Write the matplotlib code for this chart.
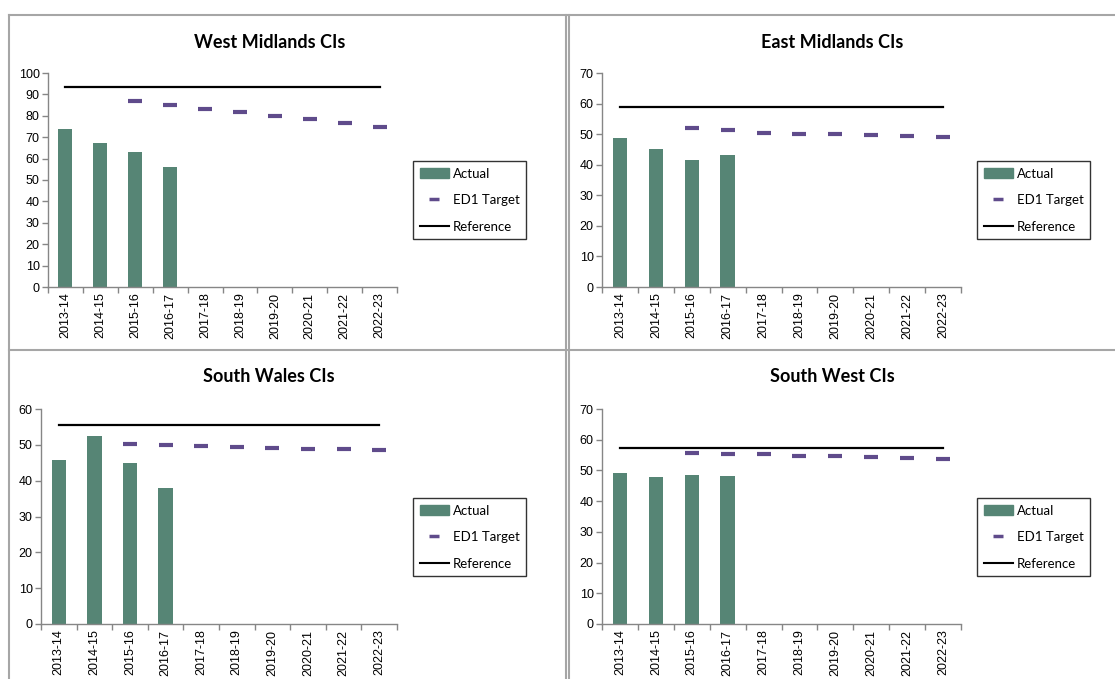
import matplotlib
matplotlib.use('Agg')
import matplotlib.pyplot as plt
from matplotlib.lines import Line2D
from matplotlib.patches import Patch

plt.rcParams['font.family'] = 'Liberation Sans'

# data
years = ['2013-14', '2014-15', '2015-16', '2016-17', '2017-18',
         '2018-19', '2019-20', '2020-21', '2021-22', '2022-23']

titles = ['West Midlands CIs', 'East Midlands CIs', 'South Wales CIs', 'South West CIs']

wm_actual = [73.6, 67.5, 63.0, 56.1]
wm_target = [None, None, 86.8, 85.1, 83.4, 81.7, 80.0, 78.3, 76.7, 75.0]
wm_ref = 93.6

em_actual = [48.7, 45.0, 41.5, 43.2]
em_target = [None, None, 52.0, 51.2, 50.4, 50.1, 50.0, 49.7, 49.5, 49.1]
em_ref = 58.8

sw_actual = [45.7, 52.6, 44.8, 38.0]
sw_target = [None, None, 50.1, 49.9, 49.7, 49.4, 49.1, 48.9, 48.7, 48.5]
sw_ref = 55.4

swe_actual = [49.3, 47.9, 48.4, 48.2]
swe_target = [None, None, 55.8, 55.5, 55.2, 54.8, 54.7, 54.4, 54.1, 53.7]
swe_ref = 57.4

ymax = [100, 70, 60, 70]

W, H = 1115, 679
bar_col = '#568575'
tgt_col = '#5f4b8b'
grey = '#868686'

fig = plt.figure(figsize=(W / 100, H / 100), dpi=100)


def rect(l, t, r, b):
    return [l / W, 1 - b / H, (r - l) / W, (b - t) / H]


# axes boxes and title / legend positions in pixels
boxes = [(48, 73, 397, 287), (602, 73, 961, 287),
         (41, 409, 397, 624), (602, 409, 961, 624)]
title_pos = [(270, 42), (832, 42), (269, 377), (832, 377)]
legend_pos = [(413, 161), (977, 161), (413, 498), (977, 498)]

series = [(wm_actual, wm_target, wm_ref), (em_actual, em_target, em_ref),
          (sw_actual, sw_target, sw_ref), (swe_actual, swe_target, swe_ref)]

x = list(range(len(years)))
for i in range(4):
    actual, target, ref = series[i]
    ax = fig.add_axes(rect(*boxes[i]))
    ax.bar(x[:len(actual)], actual, width=0.4, color=bar_col, zorder=2)
    tx = [k for k in x if target[k] is not None]
    ty = [target[k] for k in tx]
    ax.plot(tx, ty, linestyle='none', marker='_', markersize=9.5, mew=3,
            color=tgt_col, zorder=3)
    ax.plot([x[0], x[-1]], [ref, ref], color='black', lw=1.6, zorder=3)

    ax.set_xlim(-0.5, len(years) - 0.5)
    ax.set_ylim(0, ymax[i])
    ax.set_yticks(range(0, ymax[i] + 1, 10))
    # category boundaries carry the tick marks, centres carry the labels
    ax.set_xticks([k + 0.5 for k in range(-1, len(years))])
    ax.set_xticklabels([])
    ax.set_xticks(x, minor=True)
    ax.set_xticklabels(years, minor=True, rotation=90)
    ax.tick_params(axis='x', which='minor', length=0, pad=4, labelsize=9)
    ax.tick_params(axis='x', which='major', length=4, color=grey, width=1)
    ax.tick_params(axis='y', length=4, color=grey, width=1, labelsize=9, pad=2)
    for s in ['top', 'right']:
        ax.spines[s].set_visible(False)
    for s in ['left', 'bottom']:
        ax.spines[s].set_color(grey)
        ax.spines[s].set_linewidth(1)

    tx_, ty_ = title_pos[i]
    fig.text(tx_ / W, 1 - ty_ / H, titles[i], ha='center', va='center',
             fontsize=13, fontweight='bold', family='Lato')

    handles = [Patch(color=bar_col),
               Line2D([], [], linestyle='none', marker='_', markersize=7, mew=2.5, color=tgt_col),
               Line2D([], [], color='black', lw=1.5)]
    lx, ly = legend_pos[i]
    leg = fig.legend(handles, ['Actual', 'ED1 Target', 'Reference'],
                     loc='upper left', bbox_to_anchor=(lx / W, 1 - ly / H),
                     frameon=True, fancybox=False,
                     prop={'family': 'Lato', 'size': 9.5},
                     handlelength=2.2, handletextpad=0.3, labelspacing=1.1,
                     borderpad=0.5, borderaxespad=0)
    leg.get_frame().set_edgecolor('black')
    leg.get_frame().set_linewidth(1)

# panel borders
line_kw = dict(color='#a6a6a6', lw=1.5, transform=fig.transFigure)
fig.add_artist(Line2D([9 / W, 1], [1 - 15 / H, 1 - 15 / H], **line_kw))
fig.add_artist(Line2D([9 / W, 9 / W], [0, 1 - 15 / H], **line_kw))
fig.add_artist(Line2D([566 / W, 566 / W], [0, 1 - 15 / H], **line_kw))
fig.add_artist(Line2D([569 / W, 569 / W], [0, 1 - 15 / H], **line_kw))
fig.add_artist(Line2D([9 / W, 1], [1 - 350 / H, 1 - 350 / H], **line_kw))

fig.savefig('out.png', dpi=100)
